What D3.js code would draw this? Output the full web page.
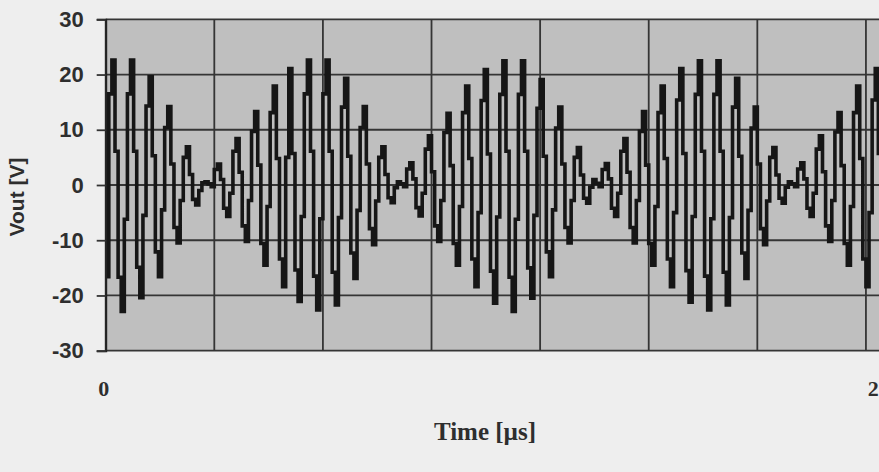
<!DOCTYPE html>
<html>
<head>
<meta charset="utf-8">
<script src="https://cdn.jsdelivr.net/npm/d3@7"></script>
<style>
  html, body { margin: 0; padding: 0; background: #eeeeee; overflow: hidden; }
  svg { display: block; }
</style>
</head>
<body>
<svg id="chart" width="960" height="472"></svg>
<script>
// Output voltage samples (V), one per sample period, held until the next sample
const vout = [
  -16.6, 16.5, 22.6, 6.1, -16.7, -22.9, -6.2, 16.5, 22.6, 6.1,
  -14.9, -20.4, -5.5, 14.3, 19.6, 5.3, -12.1, -16.6, -4.5, 10.4,
  14.2, 3.8, -7.7, -10.5, -2.8, 5.0, 6.9, 1.9, -2.6, -3.6,
  -1.0, 0.4, 0.6, 0.2, -0.3, 2.8, 3.8, 1.0, -4.2, -5.7,
  -1.5, 6.1, 8.4, 2.3, -7.4, -10.2, -2.8, 9.7, 13.3, 3.6,
  -10.6, -14.5, -3.9, 13.1, 17.9, 4.8, -13.4, -18.4, 5.0, 21.1,
  5.7, -15.4, -21.1, -5.7, 16.5, 22.6, 6.1, -16.5, -22.6, -6.1,
  16.5, 22.6, 6.1, -15.8, -21.7, -5.9, 14.1, 19.3, 5.2, -12.3,
  -16.9, -4.6, 10.4, 14.2, 3.8, -7.9, -10.8, -2.9, 5.0, 6.9,
  1.9, -2.3, -3.2, -0.5, 0.6, 0.2, -0.3, 2.9, 4.0, 1.1,
  -4.1, -5.6, -1.5, 6.5, 8.9, 2.4, -7.4, -10.2, -2.8, 9.5,
  13.0, 3.5, -10.6, -14.5, -3.9, 13.1, 17.9, 4.8, -13.4, -18.4,
  -5.0, 15.3, 20.9, 5.6, -15.6, -21.4, -5.8, 16.4, 22.5, 6.1,
  -16.7, -22.9, -6.2, 16.4, 22.5, 6.1, -15.0, -20.5, -5.5, 13.9,
  19.1, 5.2, -12.1, -16.6, -4.5, 10.3, 14.1, 3.8, -7.7, -10.5,
  -2.8, 5.0, 6.8, 1.8, -2.4, -3.3, -0.4, 1.0, 0.3, -0.3,
  2.8, 3.9, 1.1, -4.2, -5.7, -1.5, 6.1, 8.4, 2.3, -7.7,
  -10.5, -2.8, 9.7, 13.3, 3.6, -10.6, -14.5, -3.9, 13.1, 17.9,
  4.8, -13.4, -18.4, -5.0, 15.4, 21.1, 5.7, -15.5, -21.2, -5.7,
  16.4, 22.5, 6.1, -16.5, -22.6, -6.1, 16.4, 22.5, 6.1, -15.8,
  -21.7, -5.9, 14.1, 19.3, 5.2, -12.3, -16.9, -4.6, 10.3, 14.1,
  3.8, -7.9, -10.8, -2.9, 5.0, 6.8, 1.8, -2.4, -3.3, -0.4,
  0.6, 0.2, -0.3, 2.9, 4.0, 1.1, -4.2, -5.7, -1.5, 6.5,
  8.9, 2.4, -7.4, -10.2, -2.8, 9.6, 13.1, 3.5, -10.6, -14.5,
  -3.9, 13.1, 17.9, 4.8, -13.4, -18.4, -5.0, 15.4, 21.1, 5.7,
  -15.4, -21.1, -5.7, 16.5, 22.6, 6.1, -16.5, -22.6, -6.1, 16.5
];

// Sampling period (µs) and axis definitions
const sampleDt = 2 / 248;
const yTicks = [-30, -20, -10, 0, 10, 20, 30];
const gridSamples = [0, 35, 70, 105, 140, 175, 210, 245];
const xLabelTimes = [0, 2];
const xLabelText = ["0", "2"];
const sampleCount = 260;

const svg = d3.select("#chart");

const plot = { left: 105.7, right: 105.7 + 260 * 3.103, top: 19.3, bottom: 350.7 };

const x = d3.scaleLinear().domain([0, sampleCount * sampleDt]).range([plot.left, plot.right]);
const y = d3.scaleLinear().domain([-30, 30]).range([plot.bottom, plot.top]);

// Plot background
svg.append("rect")
  .attr("x", plot.left).attr("y", plot.top)
  .attr("width", plot.right - plot.left).attr("height", plot.bottom - plot.top)
  .attr("fill", "#bfbfbf");

// Horizontal gridlines
svg.append("g").selectAll("line").data(yTicks).join("line")
  .attr("x1", plot.left).attr("x2", plot.right)
  .attr("y1", d => y(d)).attr("y2", d => y(d))
  .attr("stroke", "#353535").attr("stroke-width", 1.8);

// Vertical gridlines
svg.append("g").selectAll("line").data(gridSamples).join("line")
  .attr("x1", d => x(d * sampleDt)).attr("x2", d => x(d * sampleDt))
  .attr("y1", plot.top).attr("y2", plot.bottom)
  .attr("stroke", "#353535").attr("stroke-width", 1.8);

// Clip for the waveform
svg.append("clipPath").attr("id", "plotClip")
  .append("rect")
  .attr("x", plot.left).attr("y", plot.top)
  .attr("width", plot.right - plot.left).attr("height", plot.bottom - plot.top);

const line = d3.line()
  .x((d, i) => x(i * sampleDt))
  .y(d => y(d))
  .curve(d3.curveStepAfter);

svg.append("path")
  .datum(vout)
  .attr("clip-path", "url(#plotClip)")
  .attr("fill", "none")
  .attr("stroke", "#161616")
  .attr("stroke-width", 3.6)
  .attr("stroke-linejoin", "miter")
  .attr("d", line);

// Y axis with outward ticks; plain hyphen for negatives
const yAxis = d3.axisLeft(y)
  .tickValues(yTicks)
  .tickSize(9)
  .tickPadding(13)
  .tickFormat(d => String(d));

const yAxisG = svg.append("g")
  .attr("transform", `translate(${plot.left},0)`)
  .call(yAxis);
yAxisG.select(".domain").attr("stroke", "#222").attr("stroke-width", 2);
yAxisG.selectAll(".tick line").attr("stroke", "#333").attr("stroke-width", 1.8);
yAxisG.selectAll(".tick text")
  .attr("fill", "#2e2e2e")
  .style("font-family", "'Liberation Sans', Arial, sans-serif")
  .style("font-weight", "bold")
  .style("font-size", "22px");

// X axis labels
svg.append("g").selectAll("text").data(xLabelTimes).join("text")
  .attr("x", d => x(d) - 2)
  .attr("y", 396)
  .attr("text-anchor", "middle")
  .attr("fill", "#2e2e2e")
  .style("font-family", "'Liberation Serif', 'Times New Roman', serif")
  .style("font-weight", "bold")
  .style("font-size", "22px")
  .text((d, i) => xLabelText[i]);

// Axis titles
svg.append("text")
  .attr("x", 485).attr("y", 440)
  .attr("text-anchor", "middle")
  .attr("fill", "#2e2e2e")
  .style("font-family", "'Liberation Serif', 'Times New Roman', serif")
  .style("font-weight", "bold")
  .style("font-size", "25px")
  .text("Time [µs]");

svg.append("text")
  .attr("transform", "translate(24,197) rotate(-90)")
  .attr("text-anchor", "middle")
  .attr("fill", "#2e2e2e")
  .style("font-family", "'Liberation Sans', Arial, sans-serif")
  .style("font-weight", "bold")
  .style("font-size", "21px")
  .text("Vout [V]");
</script>
</body>
</html>
